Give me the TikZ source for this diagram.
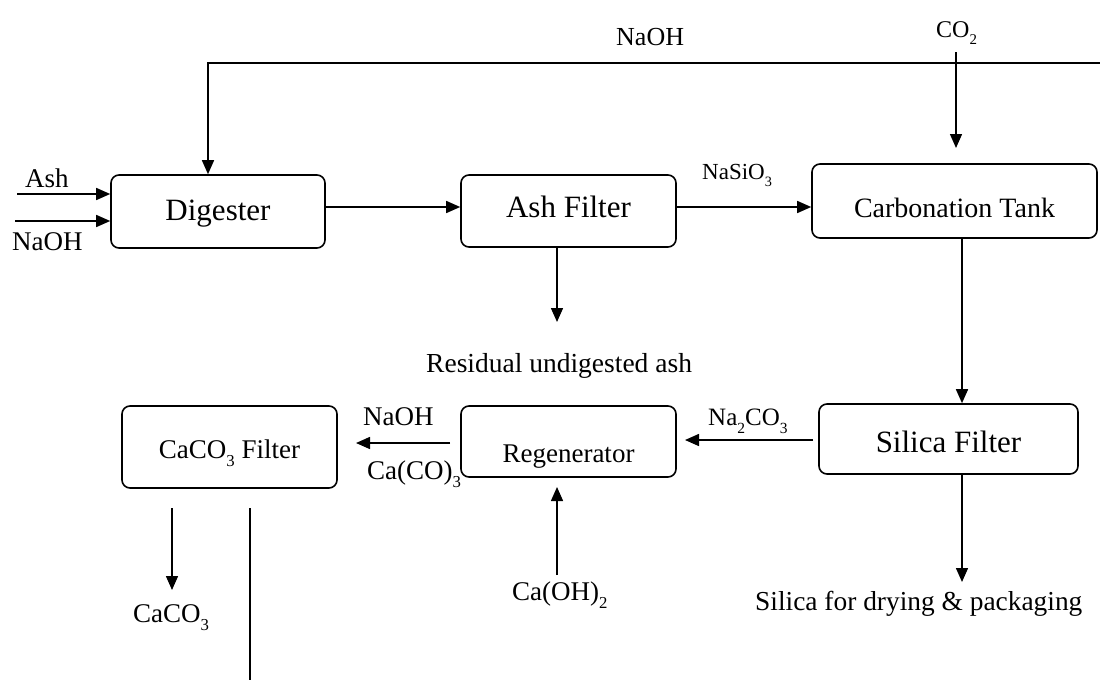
\documentclass[tikz,border=0pt]{standalone}
\usepackage{fontspec}
\setmainfont{Liberation Serif}
\usetikzlibrary{arrows.meta}
\newcommand{\sbs}[1]{\raisebox{-0.32em}{\scalebox{0.62}{#1}}}
\newcommand{\fs}[1]{\fontsize{#1}{#1}\selectfont}
\tikzset{
  box/.style={draw, line width=1.6pt, rounded corners=8pt, inner sep=0pt,
    text height=0pt, text depth=0pt, align=center},
  arr/.style={line width=1.5pt, -{Triangle[length=14pt,width=12pt]}},
  ln/.style={line width=1.5pt},
  lbl/.style={anchor=base west, inner sep=0pt},
}
\begin{document}
\begin{tikzpicture}[x=1pt,y=-1pt]
\useasboundingbox[fill=white] (0,0) rectangle (1100,680);

% boxes
\node[box, font=\fs{31}, minimum width=214pt, minimum height=73pt] (dig) at (218,211.5) {\raisebox{-8.5pt}{Digester}};
\node[box, font=\fs{31}, minimum width=215pt, minimum height=72pt] (af) at (568.5,211) {\raisebox{-6.5pt}{Ash Filter}};
\node[box, font=\fs{28}, minimum width=285pt, minimum height=74pt] (ct) at (954.5,201) {\raisebox{-16pt}{Carbonation Tank}};
\node[box, font=\fs{31}, minimum width=259pt, minimum height=70pt] (sf) at (948.5,439) {\raisebox{-13pt}{Silica Filter}};
\node[box, font=\fs{27}, minimum width=215pt, minimum height=71pt] (rg) at (568.5,441.5) {\raisebox{-21pt}{Regenerator}};
\node[box, font=\fs{27}, minimum width=215pt, minimum height=82pt] (cf) at (229.5,447) {\raisebox{-11pt}{CaCO\sbs{3} Filter}};

% labels
\node[lbl, font=\fs{26}] (lnaohtop) at (616,45) {NaOH};
\node[lbl, font=\fs{24}] (lco2) at (936,37) {CO\sbs{2}};
\node[lbl, font=\fs{27}] (lash) at (25,187) {Ash};
\node[lbl, font=\fs{27}] (lnaohin) at (12,250) {NaOH};
\node[lbl, font=\fs{23}] (lnasio) at (702,179) {NaSiO\sbs{3}};
\node[lbl, font=\fs{27.5}] (lres) at (426,372) {Residual undigested ash};
\node[lbl, font=\fs{25}] (lna2co3) at (708,425) {Na\sbs{2}CO\sbs{3}};
\node[lbl, font=\fs{27}] (lnaohmid) at (363,425) {NaOH};
\node[lbl, font=\fs{27}] (lcaco) at (367,479) {Ca(CO)\sbs{3}};
\node[lbl, font=\fs{27}] (lcaco3) at (133,622) {CaCO\sbs{3}};
\node[lbl, font=\fs{27}] (lcaoh) at (512,600) {Ca(OH)\sbs{2}};
\node[lbl, font=\fs{27.4}] (lsil) at (755,610) {Silica for drying \& packaging};

% connectors
\coordinate (topR) at (1100,63);
\coordinate (topL) at (208,63);
\draw[arr] (topR) -- (topL) -- (topL |- dig.north);

\coordinate (co2s) at (956,52);
\coordinate (co2t) at (956,148);
\draw[arr] (co2s) -- (co2t);

\coordinate (ashin) at (17,194);
\draw[arr] (ashin) -- (ashin -| dig.west);
\coordinate (naohin) at (15,221);
\draw[arr] (naohin) -- (naohin -| dig.west);

\coordinate (row1) at (0,207);
\draw[arr] (row1 -| dig.east) -- (row1 -| af.west);
\draw[arr] (row1 -| af.east) -- (row1 -| ct.west);

\coordinate (resT) at (557,322);
\draw[arr] (resT |- af.south) -- (resT);

\coordinate (colR) at (962,0);
\draw[arr] (colR |- ct.south) -- (colR |- sf.north);

\coordinate (sfA) at (813,440);
\coordinate (sfT) at (685,440);
\draw[arr] (sfA) -- (sfT);

\coordinate (rgA) at (450,443);
\coordinate (rgT) at (356,443);
\draw[arr] (rgA) -- (rgT);

\coordinate (cohS) at (557,575);
\coordinate (cohT) at (557,487);
\draw[arr] (cohS) -- (cohT);

\coordinate (silT) at (962,582);
\draw[arr] (silT |- sf.south) -- (silT);

\coordinate (cacS) at (172,508);
\coordinate (cacT) at (172,590);
\draw[arr] (cacS) -- (cacT);

\coordinate (recS) at (250,508);
\coordinate (recE) at (250,680);
\draw[ln] (recS) -- (recE);
\end{tikzpicture}
\end{document}
